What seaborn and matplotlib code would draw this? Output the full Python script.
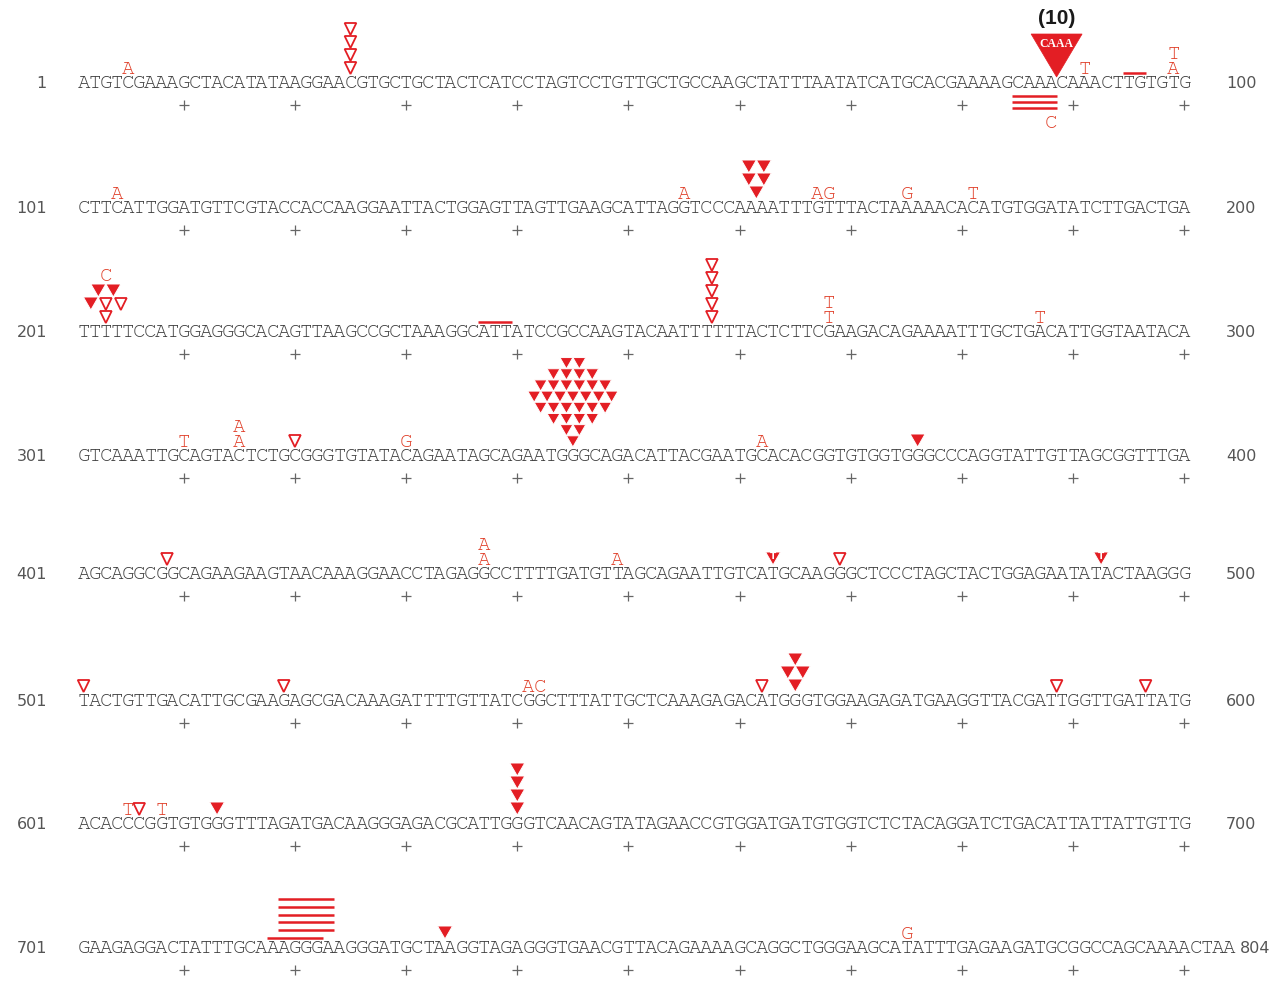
import numpy as np
import pandas as pd
import matplotlib
matplotlib.use("Agg")
import matplotlib.pyplot as plt
from matplotlib.patches import Polygon
from matplotlib import font_manager
import seaborn as sns

# ---------------- data ----------------
SEQ_ROWS = [
    "ATGTCGAAAGCTACATATAAGGAACGTGCTGCTACTCATCCTAGTCCTGTTGCTGCCAAGCTATTTAATATCATGCACGAAAAGCAAACAAACTTGTGTG",
    "CTTCATTGGATGTTCGTACCACCAAGGAATTACTGGAGTTAGTTGAAGCATTAGGTCCCAAAATTTGTTTACTAAAAACACATGTGGATATCTTGACTGA",
    "TTTTTCCATGGAGGGCACAGTTAAGCCGCTAAAGGCATTATCCGCCAAGTACAATTTTTTACTCTTCGAAGACAGAAAATTTGCTGACATTGGTAATACA",
    "GTCAAATTGCAGTACTCTGCGGGTGTATACAGAATAGCAGAATGGGCAGACATTACGAATGCACACGGTGTGGTGGGCCCAGGTATTGTTAGCGGTTTGA",
    "AGCAGGCGGCAGAAGAAGTAACAAAGGAACCTAGAGGCCTTTTGATGTTAGCAGAATTGTCATGCAAGGGCTCCCTAGCTACTGGAGAATATACTAAGGG",
    "TACTGTTGACATTGCGAAGAGCGACAAAGATTTTGTTATCGGCTTTATTGCTCAAAGAGACATGGGTGGAAGAGATGAAGGTTACGATTGGTTGATTATG",
    "ACACCCGGTGTGGGTTTAGATGACAAGGGAGACGCATTGGGTCAACAGTATAGAACCGTGGATGATGTGGTCTCTACAGGATCTGACATTATTATTGTTG",
    "GAAGAGGACTATTTGCAAAGGGAAGGGATGCTAAGGTAGAGGGTGAACGTTACAGAAAAGCAGGCTGGGAAGCATATTTGAGAAGATGCGGCCAGCAAAACTAA",
]
ROW_START = [1, 101, 201, 301, 401, 501, 601, 701]
ROW_END = [100, 200, 300, 400, 500, 600, 700, 804]

# substitutions drawn above the sequence
SUB_POS = [5, 91, 99, 99, 104, 155, 167, 175, 181, 203, 268, 268, 287,
           310, 315, 315, 330, 362, 437, 437, 449, 541, 605, 608, 775]
SUB_BASE = ["A", "T", "A", "T", "A", "A", "AG", "G", "T", "C", "T", "T", "T",
            "T", "A", "A", "G", "A", "A", "A", "A", "AC", "T", "T", "G"]
# substitutions drawn below the sequence
SUB_BELOW_POS = [88]
SUB_BELOW_BASE = ["C"]

# deletions (bars) above and below the sequence
DEL_ABOVE_START = [95, 237, 718, 719, 719, 719, 719, 719]
DEL_ABOVE_END = [96, 239, 722, 723, 723, 723, 723, 723]
DEL_BELOW_START = [85, 85, 85]
DEL_BELOW_END = [88, 88, 88]

# insertions: site and stacked rows (bottom first); F filled, O open, T filled with T
INS_POS = [25, 161.5, 203, 257.5, 320, 345, 376, 408.5, 463, 469, 492.5,
           501, 519, 562, 565, 588.5, 596.5, 606, 613, 640, 733.5]
INS_ROWS = ["O|O|O|O", "F|FF|FF", "O|FOO|FF", "O|O|O|O|O", "O",
            "F|FF|FFFF|FFFFFF|FFFFFFF|FFFFFF|FFFF|FF", "F", "O", "T", "O", "T",
            "O", "O", "O", "F|FF|F", "O", "O", "O", "F", "F|F|F|F", "F"]

# large duplication insertion
BIG_INS_POS = 88.5
BIG_INS_SEQ = "CAAA"
BIG_INS_COUNT = 10

# ---------------- layout ----------------
W, H = 1283, 981
P = 11.12          # px per base
X0 = 83.6          # px centre of first base
ROW_Y = [82, 207, 331, 455, 573, 700, 823, 947]
RED = "#E31E24"
SUBC = "#E0402A"
SEQC = "#3f3f3f"

sns.set_theme(style="white")


def pick_font(cands):
    for f in cands:
        try:
            font_manager.findfont(f, fallback_to_default=False)
            return f
        except Exception:
            continue
    return "Liberation Mono"


MONO = pick_font(["Courier New", "Nimbus Mono PS", "Nimbus Mono L", "FreeMono",
                  "Courier", "Liberation Mono"])
plt.rcParams["font.family"] = [MONO, "DejaVu Sans"]

fig = plt.figure(figsize=(W / 100, H / 100), dpi=100)
ax = fig.add_axes([0, 0, 1, 1])

FS = 14.0 if MONO == "Liberation Mono" else 15.0
CAP = 0.58 * FS * 100 / 72  # cap height px


def locate(pos):
    r = min(int((np.floor(pos) - 1) // 100), 7)
    return r, pos - ROW_START[r]


# plus ticks every 10 bases
plus = pd.DataFrame([(c, ROW_Y[r] + 22.5) for r in range(len(SEQ_ROWS))
                     for c in range(9, 100, 10)], columns=["x", "y"])
sns.scatterplot(data=plus, x="x", y="y", marker="+", s=48, color="#666666",
                linewidth=0.9, ax=ax, legend=False)
ax.set_xlim(-X0 / P, (W - X0) / P)
ax.set_ylim(H, 0)
ax.axis("off")

# sequence text
for r, s in enumerate(SEQ_ROWS):
    for c, ch in enumerate(s):
        ax.text(c, ROW_Y[r] + CAP / 2, ch, ha="center", va="baseline",
                fontsize=FS, color=SEQC, family=[MONO])
    ax.text((47 - X0) / P, ROW_Y[r] + CAP / 2, str(ROW_START[r]), ha="right",
            va="baseline", fontsize=11.5, color="#555555", family=["DejaVu Sans"])
    xr = max((1226 - X0) / P, len(s) - 0.05)
    ax.text(xr, ROW_Y[r] + CAP / 2, str(ROW_END[r]), ha="left",
            va="baseline", fontsize=11.5, color="#555555", family=["DejaVu Sans"])

# insertion clusters
SW = 15 / P
SH = 13.0
cluster_top = {}
for pos, spec in zip(INS_POS, INS_ROWS):
    r, c = locate(pos)
    rows = spec.split("|")
    sc = 0.86 if max(len(s) for s in rows) >= 6 else 1.0
    sw, sh = SW * sc, SH * sc
    base = ROW_Y[r] - 8
    for k, s in enumerate(rows):
        tip = base - k * sh
        top = tip - sh
        n = len(s)
        for j, ch in enumerate(s):
            cx = c + (j - (n - 1) / 2) * sw
            if ch == "O":
                hw = sw * 0.39
                ax.add_patch(Polygon([(cx - hw, top + 1), (cx + hw, top + 1), (cx, tip)],
                                     closed=True, fc="white", ec=RED, lw=1.3, zorder=3))
            else:
                hw = sw * 0.5
                ax.add_patch(Polygon([(cx - hw, top), (cx + hw, top), (cx, tip)],
                                     closed=True, fc=RED, ec="white", lw=0.7, zorder=3))
                if ch == "T":
                    ax.text(cx, top + sh * 0.36, "T", color="white", fontsize=6.5,
                            weight="bold", ha="center", va="center", zorder=4,
                            family=["DejaVu Sans"])
    cluster_top[(r, int(round(c)))] = base - len(rows) * sh

# big insertion
r, c = locate(BIG_INS_POS)
y0 = ROW_Y[r]
ax.add_patch(Polygon([(c - 25.5 / P, y0 - 48), (c + 25.5 / P, y0 - 48), (c, y0 - 5)],
                     closed=True, fc=RED, ec=RED, lw=0.5, zorder=3))
ax.text(c, y0 - 38, BIG_INS_SEQ, color="white", fontsize=8.5, weight="bold",
        ha="center", va="center", family=["Liberation Serif"], zorder=4)
ax.text(c, y0 - 63, "(%d)" % BIG_INS_COUNT, color="#1a1a1a", fontsize=15,
        weight="bold", ha="center", va="center", family=["Liberation Sans"])

# substitutions above
levels = {}
for pos, b in zip(SUB_POS, SUB_BASE):
    r, c = locate(pos)
    key = (r, c)
    k = levels.get(key, 0)
    levels[key] = k + 1
    if (r, int(round(c))) in cluster_top:
        yc = cluster_top[(r, int(round(c)))] - 9 - 15 * k
    else:
        yc = ROW_Y[r] - 14 - 15 * k
    for i, ch in enumerate(b):
        ax.text(c + i, yc + CAP / 2, ch, ha="center", va="baseline", fontsize=FS,
                color=SUBC, family=[MONO])

# deletions above
drawn = {}
for s0, e0 in zip(DEL_ABOVE_START, DEL_ABOVE_END):
    r, cs = locate(s0)
    _, ce = locate(e0)
    prev = drawn.setdefault(r, [])
    k = sum(1 for a, b in prev if not (b < cs or a > ce))
    prev.append((cs, ce))
    y = ROW_Y[r] - 9 - 7.8 * k
    ax.plot([cs - 0.5, ce + 0.5], [y, y], color=RED, lw=1.8, solid_capstyle="butt")

# deletions below
drawn_b = {}
for s0, e0 in zip(DEL_BELOW_START, DEL_BELOW_END):
    r, cs = locate(s0)
    _, ce = locate(e0)
    prev = drawn_b.setdefault(r, [])
    k = sum(1 for a, b in prev if not (b < cs or a > ce))
    prev.append((cs, ce))
    y = ROW_Y[r] + 14 + 6 * k
    ax.plot([cs - 0.5, ce + 0.5], [y, y], color=RED, lw=1.8, solid_capstyle="butt")

# substitutions below
for pos, b in zip(SUB_BELOW_POS, SUB_BELOW_BASE):
    r, c = locate(pos)
    n = len(drawn_b.get(r, []))
    yc = ROW_Y[r] + 14 + 6 * n + 8
    for i, ch in enumerate(b):
        ax.text(c + i, yc + CAP / 2, ch, ha="center", va="baseline", fontsize=FS,
                color=SUBC, family=[MONO])

fig.savefig("out.png", dpi=100, facecolor="white")
